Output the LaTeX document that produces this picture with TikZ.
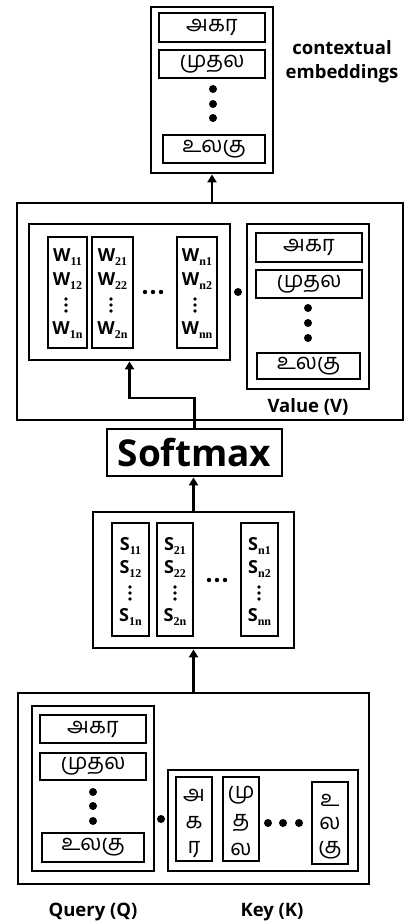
\documentclass[tikz,border=0pt]{standalone}
\usepackage{fontspec}
\setmainfont{Open Sans}
\newfontfamily\tamilfont[Script=Tamil]{Hind Madurai}
\newfontfamily\idxfont{Liberation Serif}
\usetikzlibrary{arrows.meta}

% subscript index for the matrix entries
\newcommand\idx[1]{\raisebox{-0.4ex}{\idxfont\fontsize{12}{12}\selectfont #1}}

\tikzset{
  box/.style={draw, rectangle, line width=2.8pt, inner sep=0pt},
  sz/.style 2 args={minimum width=#1pt, minimum height=#2pt},
  ta/.style={font=\tamilfont\fontsize{22}{24}\selectfont},
  tbox/.style={box, ta},
  tchar/.style={inner sep=0pt, ta},
  lbl/.style={inner sep=0pt, font=\bfseries\fontsize{18.5}{24}\selectfont, align=center},
  ent/.style={inner sep=0pt, font=\bfseries\fontsize{18}{20}\selectfont},
  arr/.style={line width=2.8pt, -{Triangle[length=8pt,width=9pt]}},
}

\begin{document}
\begin{tikzpicture}[x=1pt,y=-1pt]
\useasboundingbox (0,0) rectangle (405,922);

% ---------- contextual embeddings ----------
\node[box, sz={122}{166}] (emb) at (212,90) {};
\node[tbox, sz={106}{29}] (e1) at (212,27.5) {அகர};
\node[tbox, sz={106}{28}] (e2) at (212,64) {முதல};
\foreach \y in {89,104,118} \fill (213,\y) circle (4pt);
\node[tbox, sz={102}{28}] (e3) at (214,149) {உலகு};
\node[lbl] (embl) at (342,62) {contextual\\embeddings};

% ---------- weights times values ----------
\node[box, sz={386}{217}] (val) at (210,311.5) {};
\node[box, sz={201}{136}] (wbox) at (129.5,292) {};
\node[box, sz={39}{111}] (wc1) at (67.5,292.5) {};
\node[box, sz={41}{111}] (wc2) at (112.5,292.5) {};
\node[box, sz={40}{111}] (wc3) at (197,292.5) {};
\node[ent] (w11) at (67.5,257) {W\idx{11}};
\node[ent] (w12) at (67.5,281) {W\idx{12}};
\node[ent] (w1n) at (67.5,330) {W\idx{1n}};
\node[ent] (w21) at (112.5,257) {W\idx{21}};
\node[ent] (w22) at (112.5,281) {W\idx{22}};
\node[ent] (w2n) at (112.5,330) {W\idx{2n}};
\node[ent] (wn1) at (197,257) {W\idx{n1}};
\node[ent] (wn2) at (197,281) {W\idx{n2}};
\node[ent] (wnn) at (197,330) {W\idx{nn}};
\foreach \x in {66,111,195}
  \foreach \y in {299,305,311} \fill (\x,\y) circle (1.9pt);
\foreach \x in {145,153,161} \fill (\x,292) circle (2.2pt);
\fill (238,292) circle (4pt);

\node[box, sz={122}{165}] (vbox) at (308,306.5) {};
\node[tbox, sz={106}{29}] (v1) at (309,247.5) {அகர};
\node[tbox, sz={106}{28}] (v2) at (309,284) {முதல};
\foreach \y in {308,323,338} \fill (308,\y) circle (4pt);
\node[tbox, sz={103}{26}] (v3) at (308.5,366) {உலகு};
\node[lbl] (vall) at (308,407) {Value (V)};

\draw[arr] (emb.south |- val.north) -- (emb.south);

% ---------- softmax ----------
\node[box, sz={175}{47}, font=\bfseries\fontsize{37}{40}\selectfont] (sm) at (194.5,452.5) {Softmax};
\coordinate (turn) at (129.5,398);
\draw[arr] (sm.north) |- (turn) -- (wbox.south);

% ---------- scores ----------
\node[box, sz={201}{136}] (sbox) at (193.5,580) {};
\node[box, sz={37}{113}] (sc1) at (130.5,579.5) {};
\node[box, sz={36}{113}] (sc2) at (175,579.5) {};
\node[box, sz={37}{113}] (sc3) at (259.5,579.5) {};
\node[ent] (s11) at (130.5,546) {S\idx{11}};
\node[ent] (s12) at (130.5,569) {S\idx{12}};
\node[ent] (s1n) at (130.5,617) {S\idx{1n}};
\node[ent] (s21) at (175,546) {S\idx{21}};
\node[ent] (s22) at (175,569) {S\idx{22}};
\node[ent] (s2n) at (175,617) {S\idx{2n}};
\node[ent] (sn1) at (259.5,546) {S\idx{n1}};
\node[ent] (sn2) at (259.5,569) {S\idx{n2}};
\node[ent] (snn) at (259.5,617) {S\idx{nn}};
\foreach \x in {130,175,259}
  \foreach \y in {587,593,599} \fill (\x,\y) circle (1.9pt);
\foreach \x in {209,217,225} \fill (\x,580) circle (2.2pt);
\draw[arr] (sbox.north) -- (sbox.north |- sm.south);

% ---------- query and key ----------
\node[box, sz={351}{191}] (qk) at (193.5,788.5) {};
\node[box, sz={122}{165}] (qbox) at (93,788.5) {};
\node[tbox, sz={106}{28}] (q1) at (93,729) {அகர};
\node[tbox, sz={106}{27}] (q2) at (93,766.5) {முதல};
\foreach \y in {792,806,821} \fill (93,\y) circle (4pt);
\node[tbox, sz={102}{29}] (q3) at (93,847.5) {உலகு};
\fill (161,819) circle (4pt);

\node[box, sz={190}{101}] (kbox) at (263,820.5) {};
\node[box, sz={36}{84}] (k1) at (194,819) {};
\node[box, sz={36}{84}] (k2) at (241,819) {};
\node[box, sz={36}{82}] (k3) at (330,823) {};
\node[tchar] (k1a) at (194,795) {அ};
\node[tchar] (k1b) at (194,823) {க};
\node[tchar] (k1c) at (194,849) {ர};
\node[tchar] (k2a) at (241,795) {மு};
\node[tchar] (k2b) at (241,823) {த};
\node[tchar] (k2c) at (241,849) {ல};
\node[tchar] (k3a) at (330,800) {உ};
\node[tchar] (k3b) at (330,823) {ல};
\node[tchar] (k3c) at (330,850) {கு};
\foreach \x in {268,283,299} \fill (\x,823) circle (4pt);
\draw[arr] (qk.north -| sbox.south) -- (sbox.south);

\node[lbl] (ql) at (93,912) {Query (Q)};
\node[lbl] (kl) at (272,912) {Key (K)};
\end{tikzpicture}
\end{document}
